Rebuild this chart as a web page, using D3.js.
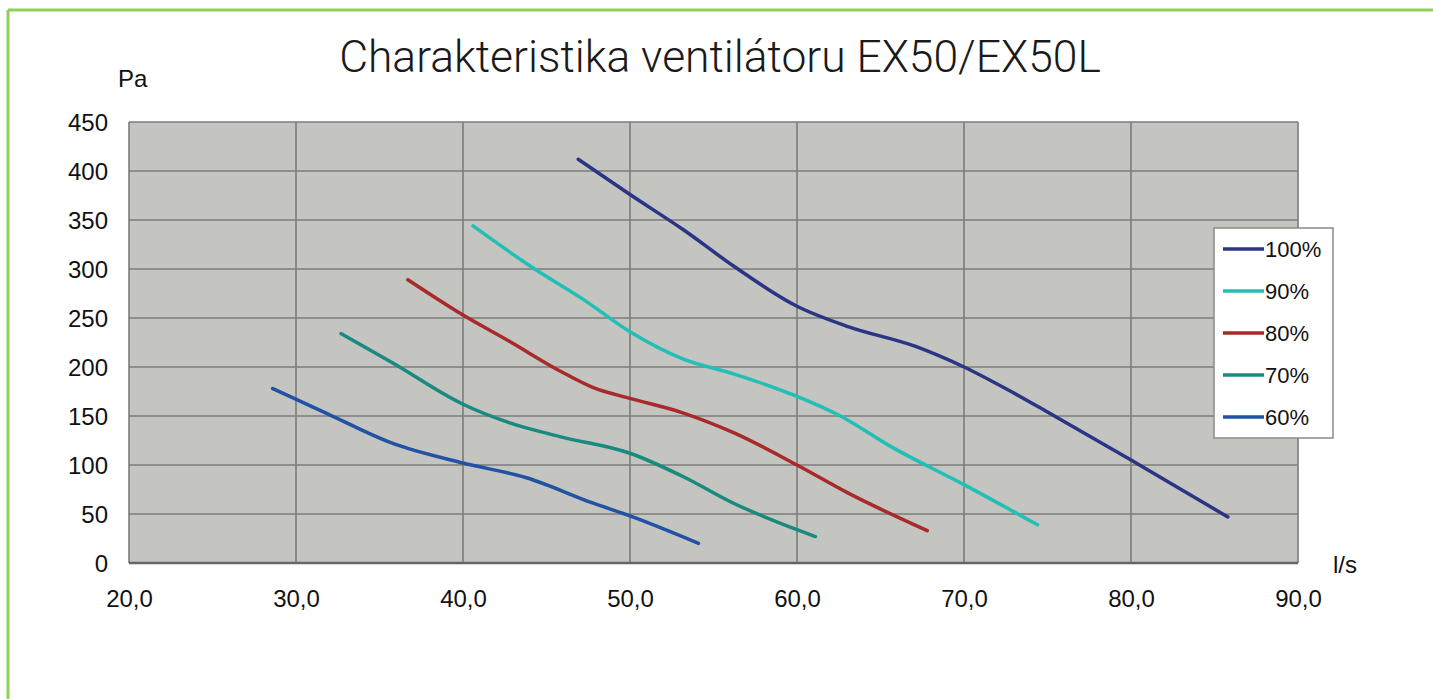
<!DOCTYPE html>
<html>
<head>
<meta charset="utf-8">
<script src="https://cdn.jsdelivr.net/npm/d3@7"></script>
<style>
  body { margin: 0; background: #fff; }
  svg { display: block; }
</style>
</head>
<body>
<div id="chart-area"></div>
<script>
// data (flow l/s, pressure Pa)
var series = ["100%", "90%", "80%", "70%", "60%"];
var colors = ["#2a3585", "#22bfb6", "#a82a2a", "#198a80", "#2152a3"];

var flow100 = [46.9, 50.0, 53.2, 56.2, 60.0, 63.1, 67.1, 70.0, 72.6, 75.0, 80.0, 85.8];
var pa100   = [412, 376, 340, 303, 262, 241, 221, 200, 177, 154, 105, 47];

var flow90 = [40.6, 44.2, 47.2, 50.0, 53.2, 56.2, 60.0, 62.6, 65.6, 70.0, 74.4];
var pa90   = [344, 301, 269, 236, 208, 193, 170, 150, 119, 80, 39];

var flow80 = [36.7, 40.0, 42.8, 45.8, 47.8, 50.0, 53.2, 56.2, 60.0, 63.1, 67.8];
var pa80   = [289, 253, 226, 196, 179, 168, 153, 133, 100, 71, 33];

var flow70 = [32.7, 35.8, 40.0, 42.8, 45.8, 50.0, 53.2, 56.2, 60.0, 61.1];
var pa70   = [234, 204, 162, 143, 129, 112, 88, 61, 34, 27];

var flow60 = [28.6, 31.8, 35.8, 40.0, 43.8, 47.8, 50.0, 54.1];
var pa60   = [178, 153, 122, 102, 87, 61, 48, 20];

var xTicks = [20, 30, 40, 50, 60, 70, 80, 90];
var yTicks = [0, 50, 100, 150, 200, 250, 300, 350, 400, 450];

var flows = [flow100, flow90, flow80, flow70, flow60];
var pressures = [pa100, pa90, pa80, pa70, pa60];

var W = 1433, H = 699;
var margin = { left: 129, right: 135, top: 122, bottom: 136 },
    width = W - margin.left - margin.right,
    height = H - margin.top - margin.bottom;

var font = "Liberation Sans, Arial, sans-serif";

var svg = d3.select("#chart-area")
    .append("svg")
    .attr("width", W)
    .attr("height", H);

// green frame (top and left edge)
svg.append("line")
    .attr("x1", 8).attr("x2", W).attr("y1", 10).attr("y2", 10)
    .attr("stroke", "#8fcf5a").attr("stroke-width", 3);
svg.append("line")
    .attr("x1", 8).attr("x2", 8).attr("y1", 10).attr("y2", H)
    .attr("stroke", "#8fcf5a").attr("stroke-width", 3);

var g = svg.append("g")
    .attr("transform", "translate(" + margin.left + "," + margin.top + ")");

var x = d3.scaleLinear().domain([20, 90]).range([0, width]);
var y = d3.scaleLinear().domain([0, 450]).range([height, 0]);

// plot background
g.append("rect")
    .attr("width", width)
    .attr("height", height)
    .attr("fill", "#c4c4c0");

// grid
g.selectAll(".vgrid")
    .data(xTicks)
    .enter().append("line")
    .attr("class", "vgrid")
    .attr("x1", d => x(d)).attr("x2", d => x(d))
    .attr("y1", 0).attr("y2", height)
    .attr("stroke", "#7c7c7c").attr("stroke-width", 1.6);
g.selectAll(".hgrid")
    .data(yTicks)
    .enter().append("line")
    .attr("class", "hgrid")
    .attr("x1", 0).attr("x2", width)
    .attr("y1", d => y(d)).attr("y2", d => y(d))
    .attr("stroke", "#7c7c7c").attr("stroke-width", 1.6);
g.append("line")
    .attr("x1", 0).attr("x2", width)
    .attr("y1", height).attr("y2", height)
    .attr("stroke", "#666").attr("stroke-width", 2.5);

// axes (labels only)
var fmt = d => d3.format(".1f")(d).replace(".", ",");
var xAxis = g.append("g")
    .attr("transform", "translate(0," + height + ")")
    .call(d3.axisBottom(x).tickValues(xTicks).tickFormat(fmt).tickSize(0).tickPadding(27));
var yAxis = g.append("g")
    .call(d3.axisLeft(y).tickValues(yTicks).tickSize(0).tickPadding(21));
xAxis.select(".domain").remove();
yAxis.select(".domain").remove();
g.selectAll(".tick text")
    .attr("font-family", font)
    .attr("font-size", "24px")
    .attr("fill", "#111");
yAxis.selectAll(".tick text").attr("dy", "0.36em");

// curves
var line = d3.line()
    .x(d => x(d[0]))
    .y(d => y(d[1]))
    .curve(d3.curveMonotoneX);

series.forEach(function(s, i) {
    var pts = flows[i].map((f, j) => [f, pressures[i][j]]);
    g.append("path")
        .attr("class", "line")
        .attr("fill", "none")
        .attr("stroke", colors[i])
        .attr("stroke-width", 3.5)
        .attr("stroke-linecap", "round")
        .attr("d", line(pts));
});

// legend
var legend = svg.append("g").attr("transform", "translate(1214,228)");
legend.append("rect")
    .attr("width", 119).attr("height", 210)
    .attr("fill", "#fff").attr("stroke", "#8a8a8a").attr("stroke-width", 1.5);
series.forEach(function(s, i) {
    var ly = 21 + i * 42;
    legend.append("line")
        .attr("x1", 9).attr("x2", 50).attr("y1", ly).attr("y2", ly)
        .attr("stroke", colors[i]).attr("stroke-width", 3.5);
    legend.append("text")
        .attr("x", 51).attr("y", ly).attr("dy", "0.36em")
        .attr("font-family", font)
        .attr("font-size", "22px").attr("fill", "#111")
        .text(s);
});

// unit labels
svg.append("text")
    .attr("x", 118).attr("y", 87)
    .attr("font-family", font)
    .attr("font-size", "24px").attr("fill", "#111")
    .text("Pa");
svg.append("text")
    .attr("x", 1333).attr("y", 573)
    .attr("font-family", font)
    .attr("font-size", "24px").attr("fill", "#111")
    .text("l/s");

// title
var title = svg.append("text")
    .attr("x", 720).attr("y", 72)
    .attr("text-anchor", "middle")
    .attr("font-family", "Roboto, sans-serif")
    .attr("font-weight", 300)
    .attr("font-size", "38px")
    .attr("fill", "#1a1a1a")
    .text("Charakteristika ventilátoru EX50/EX50L");
var tw = title.node().getComputedTextLength();
title.attr("font-size", (38 * 762 / tw).toFixed(1) + "px");
</script>
</body>
</html>
